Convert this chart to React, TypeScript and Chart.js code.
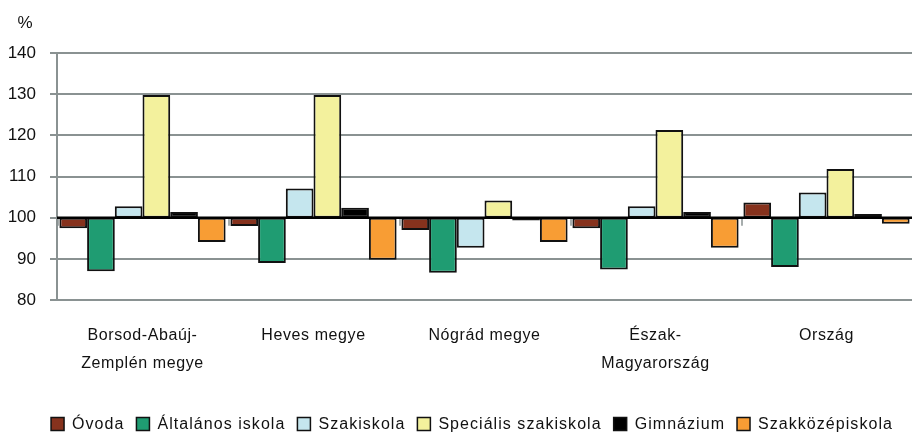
import React, { useEffect, useRef } from "react";
import { Chart, registerables } from "chart.js";

Chart.register(...registerables);

const categories: (string | string[])[] = [
  ["Borsod-Abaúj-", "Zemplén megye"],
  "Heves megye",
  "Nógrád megye",
  ["Észak-", "Magyarország"],
  "Ország",
];

const seriesNames = [
  "Óvoda",
  "Általános iskola",
  "Szakiskola",
  "Speciális szakiskola",
  "Gimnázium",
  "Szakközépiskola",
];

const ovoda = [97.4, 98.0, 97.0, 97.4, 103.7];
const altalanos = [87.0, 89.0, 86.6, 87.4, 88.0];
const szakiskola = [102.8, 107.1, 92.7, 102.8, 106.1];
const specialis = [129.8, 129.8, 104.2, 121.3, 111.8];
const gimnazium = [101.4, 102.4, 99.3, 101.4, 100.9];
const szakkozep = [94.1, 89.8, 94.1, 92.7, 98.5];

const baseValue = 100;
const yMin = 80;
const yMax = 140;
const yStep = 10;

const colors = ["#86321d", "#1f9c72", "#c5e6ee", "#f3f19d", "#000000", "#f89d34"];
const FONT = "'Liberation Sans', Arial, sans-serif";

export default function App() {
  const ref = useRef<HTMLCanvasElement>(null);
  useEffect(() => {
    if (!ref.current) return;
    const seriesValues = [ovoda, altalanos, szakiskola, specialis, gimnazium, szakkozep];
    const datasets = seriesValues.map((vals, i) => ({
      label: seriesNames[i],
      data: vals.map((v) => [baseValue, v] as [number, number]),
      backgroundColor: colors[i],
      borderColor: "#111111",
      borderWidth: 2,
      borderSkipped: false as const,
      categoryPercentage: 0.972,
      barPercentage: 1,
    }));

    const custom = {
      id: "custom",
      beforeDraw(chart: any) {
        const ctx = chart.ctx;
        ctx.letterSpacing = "0px";
        ctx.save();
        ctx.fillStyle = "#ffffff";
        ctx.fillRect(0, 0, chart.width, chart.height);
        ctx.fillStyle = "#111111";
        ctx.font = `17px ${FONT}`;
        ctx.textAlign = "center";
        ctx.textBaseline = "middle";
        ctx.fillText("%", 25, 23);
        ctx.restore();
      },
      afterDatasetsDraw(chart: any) {
        const ctx = chart.ctx;
        const y = chart.scales.y.getPixelForValue(baseValue);
        const x = chart.scales.x;
        const area = chart.chartArea;
        ctx.save();
        ctx.strokeStyle = "#8a9292";
        ctx.lineWidth = 1.5;
        const half = (x.getPixelForValue(1) - x.getPixelForValue(0)) / 2;
        for (let i = 0; i < categories.length; i++) {
          const bx = x.getPixelForValue(i) - half;
          ctx.beginPath();
          ctx.moveTo(bx + 1, y);
          ctx.lineTo(bx + 1, y + 8);
          ctx.stroke();
        }
        ctx.strokeStyle = "#000000";
        ctx.lineWidth = 2.5;
        ctx.beginPath();
        ctx.moveTo(area.left, y);
        ctx.lineTo(area.right, y);
        ctx.stroke();
        ctx.restore();
        ctx.letterSpacing = "0.6px";
      },
      afterDraw(chart: any) {
        const ctx = chart.ctx;
        ctx.save();
        ctx.letterSpacing = "1.05px";
        ctx.font = `16px ${FONT}`;
        ctx.textBaseline = "middle";
        ctx.textAlign = "left";
        const cy = 424;
        const box = 13;
        const gapText = 8;
        const gapItem = 12;
        const widths = seriesNames.map((n) => ctx.measureText(n).width);
        const total = widths.reduce((a, w) => a + box + gapText + w, 0) + gapItem * (seriesNames.length - 1);
        let xPos = 51 + (842 - total) / 2;
        seriesNames.forEach((n, i) => {
          ctx.fillStyle = colors[i];
          ctx.fillRect(xPos, cy - box / 2, box, box);
          ctx.strokeStyle = "#111111";
          ctx.lineWidth = 1.5;
          ctx.strokeRect(xPos, cy - box / 2, box, box);
          ctx.fillStyle = "#111111";
          ctx.fillText(n, xPos + box + gapText, cy + 1);
          xPos += box + gapText + widths[i] + gapItem;
        });
        ctx.restore();
        ctx.letterSpacing = "0px";
      },
    };

    const chart = new Chart(ref.current, {
      type: "bar",
      data: { labels: categories, datasets },
      options: {
        animation: false,
        responsive: false,
        maintainAspectRatio: false,
        layout: { padding: { top: 53, right: 0, bottom: 0, left: 0 } },
        plugins: {
          legend: { display: false },
          title: { display: false },
          tooltip: { enabled: false },
        },
        scales: {
          x: {
            grid: { display: false, drawTicks: false },
            border: { display: false },
            ticks: {
              z: 1,
              padding: 22,
              color: "#111111",
              font: { family: FONT, size: 16, lineHeight: 1.75 },
              maxRotation: 0,
              autoSkip: false,
            },
            afterFit: (s: any) => {
              s.height = 135;
            },
          },
          y: {
            min: yMin,
            max: yMax,
            grid: { color: "#8a9292", lineWidth: 2, tickLength: 7, drawTicks: true },
            border: { display: true, color: "#8a9292", width: 2 },
            ticks: {
              stepSize: yStep,
              padding: 14,
              color: "#111111",
              font: { family: FONT, size: 17 },
            },
            afterFit: (s: any) => {
              s.width = 57;
            },
          },
        },
      },
      plugins: [custom],
    });
    return () => chart.destroy();
  }, []);

  return (
    <div style={{ position: "fixed", left: 0, top: 0, width: 912, height: 435, background: "#fff" }}>
      <canvas ref={ref} width={912} height={435} />
    </div>
  );
}
